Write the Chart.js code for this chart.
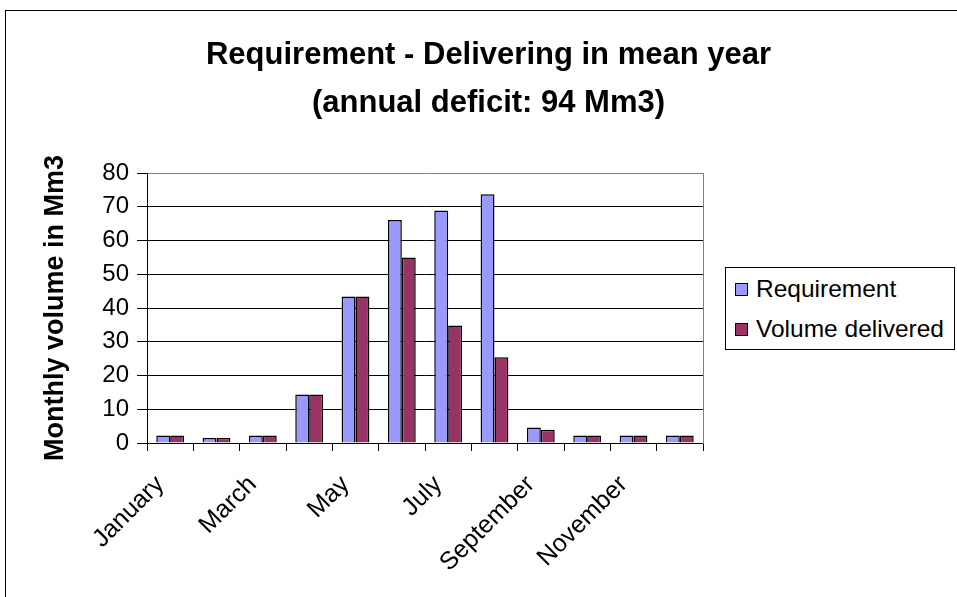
<!DOCTYPE html>
<html>
<head>
<meta charset="utf-8">
<script src="https://cdn.jsdelivr.net/npm/chart.js@4"></script>
<style>
  html, body { margin: 0; padding: 0; background: #fff; }
  body { width: 957px; height: 597px; position: relative; overflow: hidden; font-family: "Liberation Sans", Arial, sans-serif; }
  #frame { position: absolute; left: 5px; top: 10px; width: 1200px; height: 900px; border-left: 1px solid #000; border-top: 1px solid #000; }
  #wrap { position: absolute; left: 0; top: 0; width: 957px; height: 597px; }
  #legend { position: absolute; left: 725px; top: 267px; width: 228px; height: 81px; border: 1px solid #000; background: #fff; }
  #legend .row { position: absolute; left: 9px; height: 26px; line-height: 26px; font-size: 24.5px; color: #000; white-space: nowrap; }
  #legend .sw { display: inline-block; width: 11px; height: 11px; border: 1px solid #000; margin-right: 8px; vertical-align: middle; position: relative; top: -1px; }
</style>
</head>
<body>
<div id="frame"></div>
<div id="wrap"><canvas id="chart" width="957" height="597"></canvas></div>
<div id="legend"></div>
<script>
// values (Mm3 per month)
const months = ['January', 'February', 'March', 'April', 'May', 'June',
                'July', 'August', 'September', 'October', 'November', 'December'];
const requirement = [2.2, 1.5, 2.2, 14.4, 43.4, 66.1, 68.9, 73.7, 4.6, 2.2, 2.2, 2.2];
const delivered   = [2.2, 1.5, 2.2, 14.4, 43.4, 55.0, 34.8, 25.4, 3.9, 2.2, 2.2, 2.2];
const seriesNames  = ['Requirement', 'Volume delivered'];
const seriesColors = ['#9999FF', '#993366'];
const yTicks = [0, 10, 20, 30, 40, 50, 60, 70, 80];

const FONT = '"Liberation Sans", Arial, sans-serif';

// legend box like the Excel one
const lg = document.getElementById('legend');
lg.innerHTML = seriesNames.map((n, i) => `
  <div class="row" style="top:${8 + i * 40}px"><span class="sw" style="background:${seriesColors[i]}"></span>${n}</div>
`).join('');

new Chart(document.getElementById('chart'), {
  type: 'bar',
  data: {
    labels: months,
    datasets: [
      { label: seriesNames[0], data: requirement, backgroundColor: seriesColors[0], borderColor: '#000', borderWidth: 1.5 },
      { label: seriesNames[1], data: delivered,   backgroundColor: seriesColors[1], borderColor: '#000', borderWidth: 1.5 }
    ]
  },
  options: {
    responsive: false,
    animation: false,
    layout: { padding: { left: 20, right: 0, top: 0, bottom: 0 } },
    datasets: { bar: { categoryPercentage: 0.6, barPercentage: 1.0 } },
    plugins: {
      legend: { display: false },
      tooltip: { enabled: false },
      title: {
        display: true,
        text: ['Requirement - Delivering in mean year', '(annual deficit: 94 Mm3)'],
        color: '#000',
        font: { family: FONT, size: 31, weight: 'bold', lineHeight: 1.55 },
        padding: { top: 31, bottom: 46 }
      }
    },
    scales: {
      x: {
        grid: { offset: true, drawOnChartArea: false, color: '#000', tickLength: 8, tickColor: '#000' },
        border: { color: '#000', width: 1 },
        ticks: {
          autoSkip: false, minRotation: 45, maxRotation: 45, padding: 19, labelOffset: -10,
          color: '#000', font: { family: FONT, size: 25 },
          callback: (v, i) => (i % 2 === 0 ? months[i] : '')
        },
        afterFit: s => { s.height = 154; }
      },
      y: {
        min: 0, max: 80,
        afterBuildTicks: s => { s.ticks = yTicks.map(v => ({ value: v })); },
        grid: {
          color: c => (c.tick && c.tick.value === 80 ? '#808080' : '#000'),
          tickColor: '#000', tickLength: 10, lineWidth: 1
        },
        border: { color: '#000', width: 1 },
        ticks: { color: '#000', padding: 8, font: { family: FONT, size: 24 } },
        title: {
          display: true, text: 'Monthly volume in Mm3', color: '#000',
          font: { family: FONT, size: 27, weight: 'bold', lineHeight: 1.2 },
          padding: 19
        },
        afterFit: s => { s.width = 127; }
      },
      // empty right axis: keeps room for the legend and draws the grey plot edge
      y2: {
        position: 'right', min: 0, max: 80,
        grid: { display: false },
        border: { color: '#808080', width: 1 },
        ticks: { display: false },
        afterFit: s => { s.width = 254; }
      }
    }
  }
});
</script>
</body>
</html>
